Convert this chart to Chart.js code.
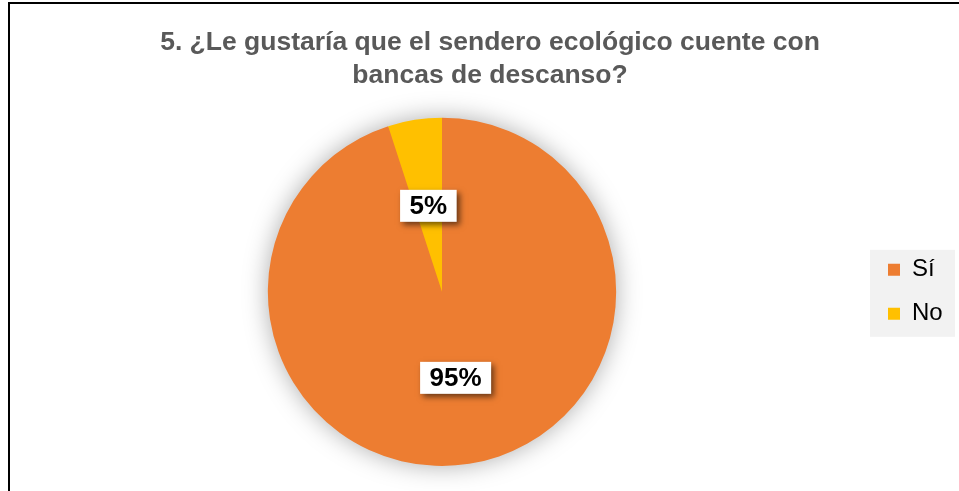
<!DOCTYPE html>
<html>
<head>
<meta charset="utf-8">
<script src="https://cdn.jsdelivr.net/npm/chart.js@4"></script>
<style>
  html, body { margin: 0; padding: 0; background: #fff; }
  #wrap { position: relative; width: 959px; height: 491px; overflow: hidden; }
  #frame { position: absolute; left: 8px; top: 2px; width: 960px; height: 500px;
           border-left: 2px solid #000; border-top: 2px solid #000; }
  canvas { position: absolute; left: 0; top: 0; }
</style>
</head>
<body>
<div id="wrap">
  <div id="frame"></div>
  <canvas id="pieChart" width="959" height="491"></canvas>
</div>
<script>
const titleLines = ['5. ¿Le gustaría que el sendero ecológico cuente con', 'bancas de descanso?'];
const categories = ['Sí', 'No'];
const percentages = [95, 5];
const sliceColors = ['#ED7D31', '#FFC000'];

const FONT = '"Liberation Sans", Arial, sans-serif';
const LEGEND_WIDTH = 96;

// sombra suave alrededor del pastel
const pieShadow = {
    id: 'pieShadow',
    beforeDatasetsDraw(chart) {
        const arc = chart.getDatasetMeta(0).data[0];
        if (!arc) return;
        const ctx = chart.ctx;
        ctx.save();
        ctx.shadowColor = 'rgba(0,0,0,0.35)';
        ctx.shadowBlur = 26;
        ctx.fillStyle = '#ED7D31';
        ctx.beginPath();
        ctx.arc(arc.x, arc.y, arc.outerRadius - 1, 0, Math.PI * 2);
        ctx.fill();
        ctx.restore();
    }
};

// fondo gris de la leyenda
const legendBg = {
    id: 'legendBg',
    beforeDraw(chart) {
        const boxes = chart.legend && chart.legend.legendHitBoxes;
        if (!boxes || !boxes.length) return;
        const left = Math.min(...boxes.map(b => b.left)) - 18;
        const top = Math.min(...boxes.map(b => b.top)) - 8;
        const bottom = Math.max(...boxes.map(b => b.top + b.height)) + 11;
        const ctx = chart.ctx;
        ctx.save();
        ctx.fillStyle = '#f2f2f2';
        ctx.fillRect(left, top, 955 - left, bottom - top);
        ctx.restore();
    }
};

// etiquetas de porcentaje en cajas blancas
const pctLabels = {
    id: 'pctLabels',
    afterDatasetsDraw(chart) {
        const ctx = chart.ctx;
        const meta = chart.getDatasetMeta(0);
        ctx.save();
        ctx.font = 'bold 26px ' + FONT;
        ctx.textAlign = 'center';
        ctx.textBaseline = 'middle';
        meta.data.forEach((arc, i) => {
            const p = arc.tooltipPosition();
            const txt = percentages[i] + '%';
            const w = ctx.measureText(txt).width + 19;
            const h = 32;
            ctx.save();
            ctx.shadowColor = 'rgba(0,0,0,0.55)';
            ctx.shadowBlur = 6;
            ctx.shadowOffsetX = 3;
            ctx.shadowOffsetY = 3;
            ctx.fillStyle = '#fff';
            ctx.fillRect(p.x - w / 2, p.y - h / 2, w, h);
            ctx.restore();
            ctx.fillStyle = '#000';
            ctx.fillText(txt, p.x, p.y + 1);
        });
        ctx.restore();
    }
};

const ctx = document.getElementById('pieChart').getContext('2d');
const chart = new Chart(ctx, {
    type: 'pie',
    data: {
        labels: categories,
        datasets: [{
            data: percentages,
            backgroundColor: sliceColors,
            borderWidth: 0
        }]
    },
    options: {
        responsive: false,
        animation: false,
        layout: { padding: { left: 16, right: -5, top: 0, bottom: 25 } },
        plugins: {
            tooltip: { enabled: false },
            title: {
                display: true,
                text: titleLines,
                color: '#595959',
                font: { family: FONT, size: 26.5, weight: 'bold', lineHeight: 1.22 },
                padding: { top: 27, bottom: 26 }
            },
            legend: {
                position: 'right',
                fullSize: false,
                labels: {
                    boxWidth: 12,
                    boxHeight: 12,
                    padding: 20,
                    color: '#000',
                    font: { family: FONT, size: 24 }
                }
            }
        }
    },
    plugins: [pieShadow, legendBg, pctLabels]
});

// ancho fijo de la leyenda para que el pastel quede donde en el original
const baseFit = chart.legend.fit;
chart.legend.fit = function () {
    baseFit.call(this);
    this.width = LEGEND_WIDTH;
};
chart.update();
</script>
</body>
</html>
